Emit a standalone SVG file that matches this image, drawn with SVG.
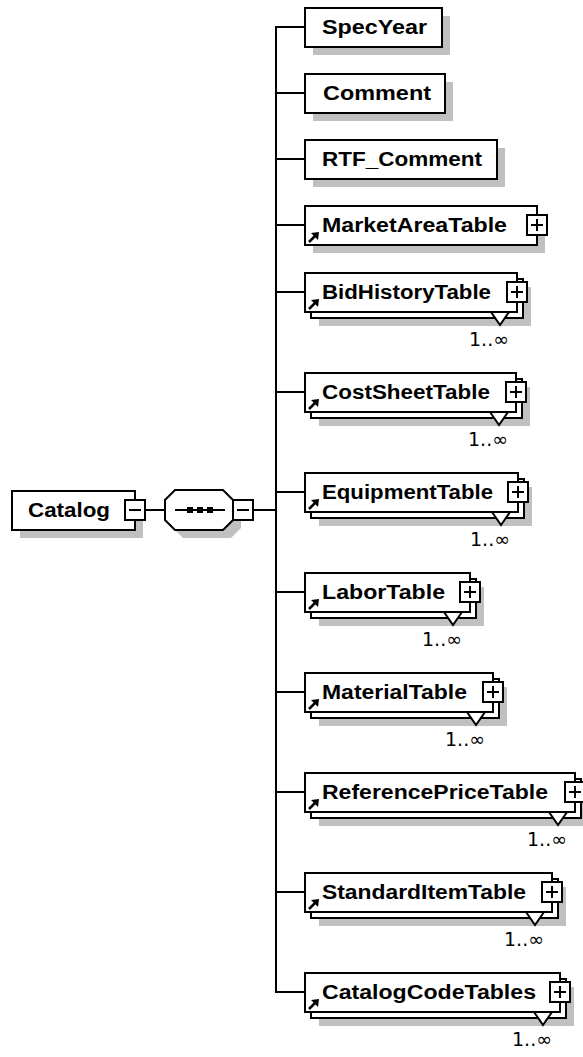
<svg xmlns="http://www.w3.org/2000/svg" xmlns:xlink="http://www.w3.org/1999/xlink" width="583" height="1057" viewBox="0 0 583 1057">
<style>
.b{fill:#fff;stroke:#000;stroke-width:2}
.s{fill:#c0c0c0}
.c{fill:none;stroke:#000;stroke-width:2}
.t{font-family:"Liberation Sans",Arial,sans-serif;font-weight:bold;font-size:20px;fill:#000}
.m{font-family:"DejaVu Sans",sans-serif;font-size:19px;fill:#000;text-anchor:end}
</style>
<defs>
<g id="plus"><rect class="b" x="-10" y="-10" width="20" height="20"/><path class="c" d="M-6,0H6M0,-6V6"/></g>
<g id="minus"><rect class="b" x="-10" y="-10" width="20" height="20"/><path class="c" d="M-6,0H6"/></g>
<g id="arr"><path d="M4,-3L10,-9" stroke="#000" stroke-width="2.5" fill="none"/><polygon points="14,-13 6,-12 13,-5" fill="#000"/></g>
<polygon id="tri" class="b" points="-26,0 -8,0 -17,13"/>
</defs>

<g id="connectors">
<path class="c" d="M145,510H165M253,510H276"/>
<path class="c" d="M305,27H276V992H305M276,93H305M276,159H305M276,225H305M276,292H305M276,392H305M276,492H305M276,592H305M276,692H305M276,792H305M276,892H305"/>
</g>

<g id="n-Catalog">
<rect class="s" x="20" y="499" width="123" height="39"/>
<rect class="b" x="12" y="491" width="123" height="39"/>
<text class="t" x="28" y="517" textLength="82" lengthAdjust="spacingAndGlyphs">Catalog</text>
<use xlink:href="#minus" x="135" y="510"/>
</g>

<g id="n-sequence">
<polygon class="s" points="183,498 231,498 241,508 241,528 231,538 183,538 173,528 173,508"/>
<polygon class="b" points="175,490 223,490 233,500 233,520 223,530 175,530 165,520 165,500"/>
<path class="c" d="M175,510H225"/>
<rect x="187" y="507" width="6" height="6" fill="#000"/>
<rect x="197" y="507" width="6" height="6" fill="#000"/>
<rect x="207" y="507" width="6" height="6" fill="#000"/>
<use xlink:href="#minus" x="243" y="510"/>
</g>

<g id="n-SpecYear">
<rect class="s" x="313" y="16" width="137" height="39"/>
<rect class="b" x="305" y="8" width="137" height="39"/>
<text class="t" x="322" y="34" textLength="105" lengthAdjust="spacingAndGlyphs">SpecYear</text>
</g>

<g id="n-Comment">
<rect class="s" x="313" y="82" width="140" height="39"/>
<rect class="b" x="305" y="74" width="140" height="39"/>
<text class="t" x="323" y="100" textLength="108" lengthAdjust="spacingAndGlyphs">Comment</text>
</g>

<g id="n-RTF_Comment">
<rect class="s" x="313" y="148" width="192" height="39"/>
<rect class="b" x="305" y="140" width="192" height="39"/>
<text class="t" x="322" y="166" textLength="160" lengthAdjust="spacingAndGlyphs">RTF_Comment</text>
</g>

<g id="n-MarketAreaTable">
<rect class="s" x="313" y="214" width="232" height="39"/>
<rect class="b" x="305" y="206" width="232" height="39"/>
<text class="t" x="322" y="232" textLength="185" lengthAdjust="spacingAndGlyphs">MarketAreaTable</text>
<use xlink:href="#arr" x="305" y="245"/>
<use xlink:href="#plus" x="537" y="225"/>
</g>

<g id="n-BidHistoryTable">
<rect class="s" x="319" y="287" width="212" height="39"/>
<rect class="b" x="311" y="279" width="212" height="39"/>
<rect class="b" x="305" y="273" width="212" height="39"/>
<text class="t" x="322" y="299" textLength="169" lengthAdjust="spacingAndGlyphs">BidHistoryTable</text>
<use xlink:href="#arr" x="305" y="312"/>
<use xlink:href="#plus" x="517" y="292"/>
<use xlink:href="#tri" x="517" y="312"/>
<text class="m" x="509" y="346">1..∞</text>
</g>

<g id="n-CostSheetTable">
<rect class="s" x="319" y="387" width="211" height="39"/>
<rect class="b" x="311" y="379" width="211" height="39"/>
<rect class="b" x="305" y="373" width="211" height="39"/>
<text class="t" x="322" y="399" textLength="168" lengthAdjust="spacingAndGlyphs">CostSheetTable</text>
<use xlink:href="#arr" x="305" y="412"/>
<use xlink:href="#plus" x="516" y="392"/>
<use xlink:href="#tri" x="516" y="412"/>
<text class="m" x="508" y="446">1..∞</text>
</g>

<g id="n-EquipmentTable">
<rect class="s" x="319" y="487" width="213" height="39"/>
<rect class="b" x="311" y="479" width="213" height="39"/>
<rect class="b" x="305" y="473" width="213" height="39"/>
<text class="t" x="322" y="499" textLength="171" lengthAdjust="spacingAndGlyphs">EquipmentTable</text>
<use xlink:href="#arr" x="305" y="512"/>
<use xlink:href="#plus" x="518" y="492"/>
<use xlink:href="#tri" x="518" y="512"/>
<text class="m" x="510" y="546">1..∞</text>
</g>

<g id="n-LaborTable">
<rect class="s" x="319" y="587" width="165" height="39"/>
<rect class="b" x="311" y="579" width="165" height="39"/>
<rect class="b" x="305" y="573" width="165" height="39"/>
<text class="t" x="322" y="599" textLength="123" lengthAdjust="spacingAndGlyphs">LaborTable</text>
<use xlink:href="#arr" x="305" y="612"/>
<use xlink:href="#plus" x="470" y="592"/>
<use xlink:href="#tri" x="470" y="612"/>
<text class="m" x="462" y="646">1..∞</text>
</g>

<g id="n-MaterialTable">
<rect class="s" x="319" y="687" width="188" height="39"/>
<rect class="b" x="311" y="679" width="188" height="39"/>
<rect class="b" x="305" y="673" width="188" height="39"/>
<text class="t" x="322" y="699" textLength="145" lengthAdjust="spacingAndGlyphs">MaterialTable</text>
<use xlink:href="#arr" x="305" y="712"/>
<use xlink:href="#plus" x="493" y="692"/>
<use xlink:href="#tri" x="493" y="712"/>
<text class="m" x="485" y="746">1..∞</text>
</g>

<g id="n-ReferencePriceTable">
<rect class="s" x="319" y="787" width="270" height="39"/>
<rect class="b" x="311" y="779" width="270" height="39"/>
<rect class="b" x="305" y="773" width="270" height="39"/>
<text class="t" x="322" y="799" textLength="226" lengthAdjust="spacingAndGlyphs">ReferencePriceTable</text>
<use xlink:href="#arr" x="305" y="812"/>
<use xlink:href="#plus" x="575" y="792"/>
<use xlink:href="#tri" x="575" y="812"/>
<text class="m" x="567" y="846">1..∞</text>
</g>

<g id="n-StandardItemTable">
<rect class="s" x="319" y="887" width="247" height="39"/>
<rect class="b" x="311" y="879" width="247" height="39"/>
<rect class="b" x="305" y="873" width="247" height="39"/>
<text class="t" x="322" y="899" textLength="204" lengthAdjust="spacingAndGlyphs">StandardItemTable</text>
<use xlink:href="#arr" x="305" y="912"/>
<use xlink:href="#plus" x="552" y="892"/>
<use xlink:href="#tri" x="552" y="912"/>
<text class="m" x="544" y="946">1..∞</text>
</g>

<g id="n-CatalogCodeTables">
<rect class="s" x="319" y="987" width="255" height="39"/>
<rect class="b" x="311" y="979" width="255" height="39"/>
<rect class="b" x="305" y="973" width="255" height="39"/>
<text class="t" x="322" y="999" textLength="214" lengthAdjust="spacingAndGlyphs">CatalogCodeTables</text>
<use xlink:href="#arr" x="305" y="1012"/>
<use xlink:href="#plus" x="560" y="992"/>
<use xlink:href="#tri" x="560" y="1012"/>
<text class="m" x="552" y="1046">1..∞</text>
</g>
</svg>
